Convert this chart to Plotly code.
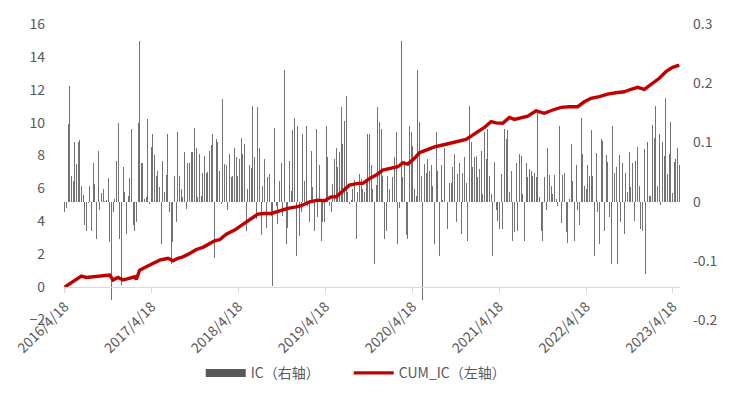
import pandas as pd
import plotly.graph_objects as go

# Weekly IC values (right axis), starting 2016-04-18
ic = [
    -0.018, -0.010, 0.131, 0.195, 0.044, 0.035, 0.100, 0.063, 0.100, 0.104,
    0.027, 0.012, -0.040, -0.050, -0.002, 0.027, -0.050, 0.065, 0.030, -0.063,
    0.086, -0.015, 0.015, 0.022, 0.001, 0.002, 0.040, -0.068, -0.166, -0.018,
    0.005, 0.069, 0.132, -0.064, -0.141, 0.059, 0.017, -0.055, 0.010, 0.040,
    0.122, -0.040, -0.049, -0.035, 0.133, 0.271, 0.066, 0.066, 0.004, 0.007,
    0.140, -0.004, 0.093, 0.115, 0.078, 0.044, 0.052, 0.024, -0.071, 0.068,
    0.017, 0.045, 0.115, -0.018, -0.105, -0.068, 0.044, -0.035, 0.118, 0.044,
    0.021, 0.007, 0.083, -0.012, 0.065, 0.065, 0.083, 0.084, 0.124, 0.090,
    0.007, 0.080, 0.010, 0.048, 0.077, 0.049, 0.050, 0.086, 0.095, 0.115,
    -0.095, 0.106, 0.100, 0.052, -0.004, 0.174, 0.063, 0.062, -0.015, 0.080,
    0.041, 0.044, 0.091, 0.075, 0.044, 0.072, 0.108, 0.080, 0.097, -0.049,
    0.022, 0.061, 0.056, 0.162, 0.076, -0.029, 0.159, 0.090, -0.057, 0.027,
    0.072, -0.045, 0.041, 0.046, -0.024, -0.143, 0.125, -0.007, -0.038, 0.034,
    0.066, -0.024, 0.223, -0.071, -0.045, 0.069, 0.018, 0.121, 0.142, -0.092,
    0.128, -0.058, -0.018, 0.115, 0.035, 0.128, -0.007, -0.035, 0.086, 0.024,
    -0.049, 0.122, -0.026, 0.061, -0.067, -0.035, -0.035, 0.128, 0.075, -0.007,
    -0.017, 0.030, 0.072, 0.091, 0.058, 0.083, 0.160, 0.097, 0.136, 0.178,
    0.016, -0.004, 0.002, 0.021, 0.037, -0.064, 0.016, 0.046, 0.038, 0.021,
    0.016, 0.038, 0.115, 0.115, 0.062, 0.021, -0.105, 0.028, 0.160, 0.134,
    0.122, 0.044, -0.063, -0.050, 0.044, 0.021, -0.001, 0.041, 0.075, 0.118,
    -0.071, -0.010, 0.271, 0.041, 0.069, -0.057, -0.063, 0.128, 0.117, 0.094,
    0.021, 0.010, 0.222, 0.134, 0.044, -0.166, 0.063, 0.049, 0.072, 0.052,
    0.061, 0.027, -0.071, 0.117, 0.052, -0.092, 0.061, 0.003, 0.091, -0.001,
    -0.046, 0.032, 0.031, 0.058, 0.080, -0.035, 0.046, 0.066, -0.054, 0.049,
    0.075, 0.032, -0.066, 0.161, 0.100, 0.058, 0.075, 0.077, 0.041, 0.055,
    0.086, 0.013, 0.117, 0.072, 0.122, 0.044, 0.013, -0.092, 0.067, -0.015,
    -0.032, -0.046, 0.046, -0.046, 0.122, 0.105, 0.121, 0.016, 0.052, -0.066,
    -0.052, 0.066, -0.049, 0.080, 0.077, 0.013, -0.066, 0.066, 0.041, 0.055,
    0.052, 0.044, 0.048, 0.041, 0.150, 0.007, -0.049, -0.067, 0.041, -0.015,
    0.090, 0.045, 0.027, 0.013, 0.045, 0.004, -0.007, 0.127, -0.036, 0.045,
    0.049, -0.052, -0.070, 0.004, 0.097, 0.035, -0.067, 0.062, -0.015, -0.040,
    0.142, 0.080, 0.027, 0.021, 0.062, 0.044, 0.121, 0.044, -0.092, 0.082,
    -0.017, -0.071, 0.106, 0.103, -0.050, 0.078, 0.067, -0.026, -0.105, 0.127,
    0.048, 0.058, -0.105, 0.078, -0.035, 0.066, -0.054, 0.048, 0.016, 0.084,
    0.024, 0.065, -0.032, 0.069, 0.093, 0.027, -0.046, -0.049, 0.089, -0.122,
    0.101, 0.010, 0.010, 0.129, 0.108, 0.161, 0.027, 0.115, -0.006, 0.100,
    0.077, 0.175, 0.046, 0.080, 0.134, 0.015, 0.067, 0.072, 0.091, 0.062,
]

# CUM_IC readings (left axis) at given week numbers since 2016-04-18
cum_ic_week = [
    0, 3, 6, 10, 13, 17, 21, 25, 27, 29, 32, 35, 39, 42, 43, 45, 49, 53, 57, 62,
    65, 68, 71, 75, 79, 83, 87, 90, 93, 97, 102, 107, 111, 116, 120, 124, 129, 134,
    139, 142, 147, 152, 156, 160, 163, 167, 171, 176, 179, 183, 187, 191, 196, 200,
    203, 206, 210, 213, 217, 222, 227, 232, 237, 241, 244, 248, 252, 256, 259, 263,
    267, 270, 274, 278, 283, 288, 293, 298, 303, 308, 312, 316, 321, 326, 331, 336,
    340, 344, 348, 352, 357, 361, 365, 369,
]
cum_ic = [
    0.00, 0.22, 0.43, 0.67, 0.59, 0.63, 0.67, 0.73, 0.73, 0.43, 0.59, 0.43, 0.53, 0.63,
    0.47, 1.03, 1.24, 1.44, 1.64, 1.75, 1.60, 1.75, 1.84, 2.05, 2.29, 2.42, 2.66, 2.82,
    2.88, 3.22, 3.47, 3.83, 4.08, 4.44, 4.48, 4.48, 4.64, 4.79, 4.88, 4.95, 5.19, 5.29,
    5.25, 5.49, 5.49, 5.84, 6.20, 6.31, 6.31, 6.60, 6.81, 7.12, 7.22, 7.32, 7.56, 7.48,
    7.83, 8.17, 8.33, 8.53, 8.64, 8.78, 8.90, 8.98, 9.18, 9.45, 9.71, 10.06, 9.99, 9.96,
    10.32, 10.20, 10.32, 10.40, 10.72, 10.57, 10.77, 10.93, 10.97, 10.97, 11.27, 11.48,
    11.58, 11.74, 11.82, 11.88, 12.03, 12.15, 12.03, 12.35, 12.70, 13.10, 13.36, 13.50,
]

tick_dates = ["2016-04-18", "2017-04-18", "2018-04-18", "2019-04-18",
              "2020-04-18", "2021-04-18", "2022-04-18", "2023-04-18"]
tick_labels = ["2016/4/18", "2017/4/18", "2018/4/18", "2019/4/18",
               "2020/4/18", "2021/4/18", "2022/4/18", "2023/4/18"]
left_ticks = [-2, 0, 2, 4, 6, 8, 10, 12, 14, 16]
right_ticks = [-0.2, -0.1, 0, 0.1, 0.2, 0.3]
right_labels = ["-0.2", "-0.1", "0", "0.1", "0.2", "0.3"]

dates = pd.date_range("2016-04-18", periods=len(ic), freq="7D")
cum_dates = [dates[w] for w in cum_ic_week]

FONT = "Noto Sans CJK SC, Open Sans, sans-serif"
GREY = "#595959"

fig = go.Figure()
fig.add_trace(go.Bar(
    x=dates, y=ic, name="IC（右轴）", yaxis="y", showlegend=False,
    legendgroup="ic",
    marker=dict(color="rgba(112,112,112,0.99)", line=dict(width=0)),
    width=4.2 * 86400000,
))
# legend entry for the bars, drawn as a wide grey swatch
fig.add_trace(go.Scatter(
    x=[None], y=[None], name="IC（右轴）", yaxis="y", legendgroup="ic",
    mode="lines", line=dict(color=GREY, width=8),
))
fig.add_trace(go.Scatter(
    x=cum_dates, y=cum_ic, name="CUM_IC（左轴）", yaxis="y2",
    mode="lines", line=dict(color="#C00000", width=3.4),
))

fig.update_layout(
    width=729, height=420,
    margin=dict(l=64, r=49, t=24, b=100, autoexpand=False),
    paper_bgcolor="white", plot_bgcolor="white",
    font=dict(family=FONT, size=14, color=GREY),
    bargap=0,
    showlegend=True,
    legend=dict(orientation="h", x=0.222, xanchor="left", y=-0.18, yanchor="middle",
                font=dict(size=14, color=GREY), traceorder="normal", itemwidth=40,
                entrywidth=93, entrywidthmode="pixels"),
    xaxis=dict(
        type="date", range=["2016-04-15", "2023-05-18"],
        anchor="free", position=2 / 18, automargin=False,
        showline=True, linecolor="#d9d9d9", linewidth=1,
        ticks="outside", ticklen=5, tickcolor="#d9d9d9",
        tickvals=tick_dates, ticktext=tick_labels, tickangle=-45,
        tickfont=dict(size=14, color=GREY),
        showgrid=False, zeroline=False,
    ),
    yaxis=dict(
        range=[-0.2, 0.3], side="right", anchor="x", automargin=False,
        tickvals=right_ticks, ticktext=right_labels,
        showgrid=False, zeroline=False, showline=False,
        ticks="", ticklabelstandoff=12,
        tickfont=dict(size=14, color=GREY),
    ),
    yaxis2=dict(
        range=[-2, 16], side="left", overlaying="y", anchor="x", automargin=False,
        tickvals=left_ticks,
        showgrid=False, zeroline=False, showline=False,
        ticks="", ticklabelstandoff=18,
        tickfont=dict(size=14, color=GREY),
    ),
)

fig.write_html("out.html", config={"displayModeBar": False},
               post_script="document.body.style.margin='0';")
